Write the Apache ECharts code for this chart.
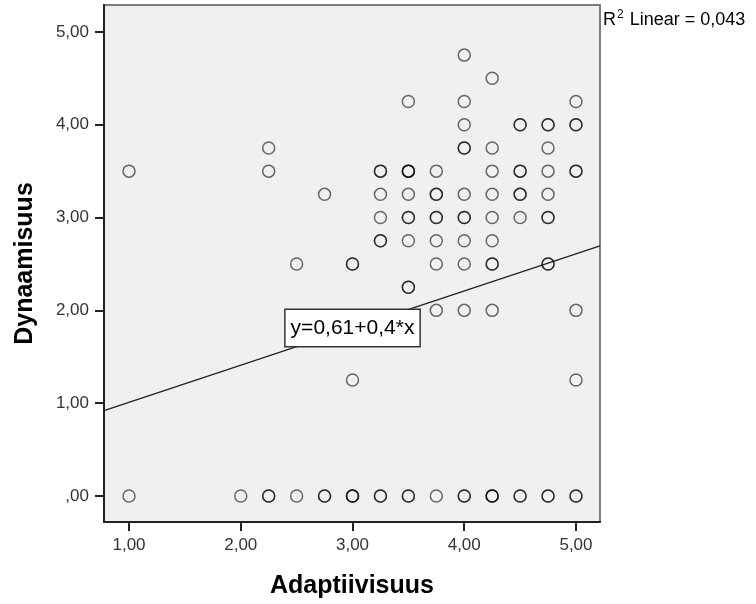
<!DOCTYPE html>
<html>
<head>
<meta charset="utf-8">
<script src="https://cdn.jsdelivr.net/npm/echarts@6/dist/echarts.min.js"></script>
<style>
  html, body { margin: 0; padding: 0; background: #fff; }
  #main { width: 756px; height: 604px; }
</style>
</head>
<body>
<div id="main"></div>
<script>
// observed points; overlap = how many cases sit on the same spot (darker rings)
var adaptiivisuus = [
  1.00, 1.00,
  2.00,
  2.25, 2.25, 2.25,
  2.50, 2.50,
  2.75, 2.75,
  3.00, 3.00, 3.00,
  3.25, 3.25, 3.25, 3.25, 3.25,
  3.50, 3.50, 3.50, 3.50, 3.50, 3.50, 3.50,
  3.75, 3.75, 3.75, 3.75, 3.75, 3.75, 3.75,
  4.00, 4.00, 4.00, 4.00, 4.00, 4.00, 4.00, 4.00, 4.00, 4.00,
  4.25, 4.25, 4.25, 4.25, 4.25, 4.25, 4.25, 4.25, 4.25,
  4.50, 4.50, 4.50, 4.50, 4.50,
  4.75, 4.75, 4.75, 4.75, 4.75, 4.75, 4.75,
  5.00, 5.00, 5.00, 5.00, 5.00, 5.00
];
var dynaamisuus = [
  3.50, 0,
  0,
  3.75, 3.50, 0,
  2.50, 0,
  3.25, 0,
  2.50, 1.25, 0,
  3.50, 3.25, 3.00, 2.75, 0,
  4.25, 3.50, 3.25, 3.00, 2.75, 2.25, 0,
  3.50, 3.25, 3.00, 2.75, 2.50, 2.00, 0,
  4.75, 4.25, 4.00, 3.75, 3.25, 3.00, 2.75, 2.50, 2.00, 0,
  4.50, 3.75, 3.50, 3.25, 3.00, 2.75, 2.50, 2.00, 0,
  4.00, 3.50, 3.25, 3.00, 0,
  4.00, 3.75, 3.50, 3.25, 3.00, 2.50, 0,
  4.25, 4.00, 3.50, 2.00, 1.25, 0
];
var overlap = [
  1, 1,
  1,
  1, 1, 2,
  1, 1,
  1, 2,
  2, 1, 3,
  2, 1, 1, 2, 2,
  1, 3, 1, 2, 1, 2, 2,
  1, 2, 2, 1, 1, 1, 1,
  1, 1, 1, 2, 1, 2, 1, 1, 1, 2,
  1, 1, 1, 1, 1, 1, 2, 1, 3,
  2, 2, 2, 1, 2,
  2, 1, 1, 1, 2, 2, 2,
  1, 2, 2, 1, 1, 2
];

var fitIntercept = 0.61;
var fitSlope = 0.4;
var fitLabel = 'y=0,61+0,4*x';
var fitLabelAt = 3.0;
var rSquaredText = '0,043';

var xTicks = [1, 2, 3, 4, 5];
var xTickLabels = ['1,00', '2,00', '3,00', '4,00', '5,00'];
var yTicks = [0, 1, 2, 3, 4, 5];
var yTickLabels = [',00', '1,00', '2,00', '3,00', '4,00', '5,00'];

var xMin = 0.776, xMax = 5.215;
var yMin = -0.28, yMax = 5.29;

var points = [];
for (var i = 0; i < adaptiivisuus.length; i++) {
  for (var k = 0; k < overlap[i]; k++) {
    points.push([adaptiivisuus[i], dynaamisuus[i]]);
  }
}

var fitLine = [
  [xMin, fitIntercept + fitSlope * xMin],
  [xMax, fitIntercept + fitSlope * xMax]
];

var font = 'Liberation Sans, Arial, sans-serif';
var chart = echarts.init(document.getElementById('main'), null, { renderer: 'canvas' });

var option = {
  backgroundColor: '#ffffff',
  animation: false,
  textStyle: { fontFamily: font },
  grid: {
    left: 104, top: 5, right: 156, bottom: 82,
    outerBoundsMode: 'none',
    containLabel: false,
    show: true,
    backgroundColor: '#f0f0f0',
    borderColor: '#555',
    borderWidth: 1.5
  },
  xAxis: {
    type: 'value',
    min: xMin, max: xMax,
    name: 'Adaptiivisuus',
    nameLocation: 'middle',
    nameGap: 52,
    nameTextStyle: { fontFamily: font, fontWeight: 'bold', fontSize: 25, color: '#000' },
    splitLine: { show: false },
    axisLine: { show: true, onZero: false, lineStyle: { color: '#222', width: 2 } },
    axisTick: { show: true, customValues: xTicks, length: 9, lineStyle: { color: '#222', width: 2 } },
    axisLabel: {
      customValues: xTicks,
      margin: 15,
      fontSize: 17,
      color: '#333',
      formatter: function (v) { return xTickLabels[xTicks.indexOf(Math.round(v))]; }
    }
  },
  yAxis: {
    type: 'value',
    min: yMin, max: yMax,
    name: 'Dynaamisuus',
    nameLocation: 'middle',
    nameGap: 66,
    nameRotate: 90,
    nameTextStyle: { fontFamily: font, fontWeight: 'bold', fontSize: 25, color: '#000' },
    splitLine: { show: false },
    axisLine: { show: true, onZero: false, lineStyle: { color: '#222', width: 2 } },
    axisTick: { show: true, customValues: yTicks, length: 9, lineStyle: { color: '#222', width: 2 } },
    axisLabel: {
      customValues: yTicks,
      margin: 15,
      fontSize: 17,
      color: '#333',
      formatter: function (v) { return yTickLabels[yTicks.indexOf(Math.round(v))]; }
    }
  },
  series: [
    {
      type: 'line',
      data: fitLine,
      symbol: 'none',
      lineStyle: { color: '#222', width: 1.3 },
      z: 1
    },
    {
      type: 'scatter',
      data: points,
      symbol: 'circle',
      symbolSize: 12,
      itemStyle: {
        color: 'rgba(0,0,0,0)',
        borderColor: 'rgba(0,0,0,0.72)',
        borderWidth: 1.5
      },
      z: 2
    }
  ],
  graphic: [
    {
      id: 'rsq',
      type: 'text',
      left: 603,
      top: 9,
      style: {
        text: '{s|R}{sup|2}{s| Linear = ' + rSquaredText + '}',
        rich: {
          s: { fontFamily: font, fontSize: 18, fill: '#000', verticalAlign: 'bottom' },
          sup: { fontFamily: font, fontSize: 12, fill: '#000', verticalAlign: 'top', padding: [0, 1, 8, 1] }
        }
      }
    }
  ]
};

chart.setOption(option);

// equation box sits on the fit line at x = fitLabelAt
var anchor = chart.convertToPixel({ gridIndex: 0 }, [fitLabelAt, fitIntercept + fitSlope * fitLabelAt]);
chart.setOption({
  graphic: [
    {
      id: 'fitBox',
      type: 'text',
      z: 100,
      x: anchor[0],
      y: anchor[1],
      style: {
        text: fitLabel,
        fontFamily: font,
        fontSize: 21,
        fill: '#000',
        align: 'center',
        verticalAlign: 'middle',
        backgroundColor: '#ffffff',
        borderColor: '#333',
        borderWidth: 1.5,
        padding: [8, 5, 7, 5]
      }
    }
  ]
});
</script>
</body>
</html>
